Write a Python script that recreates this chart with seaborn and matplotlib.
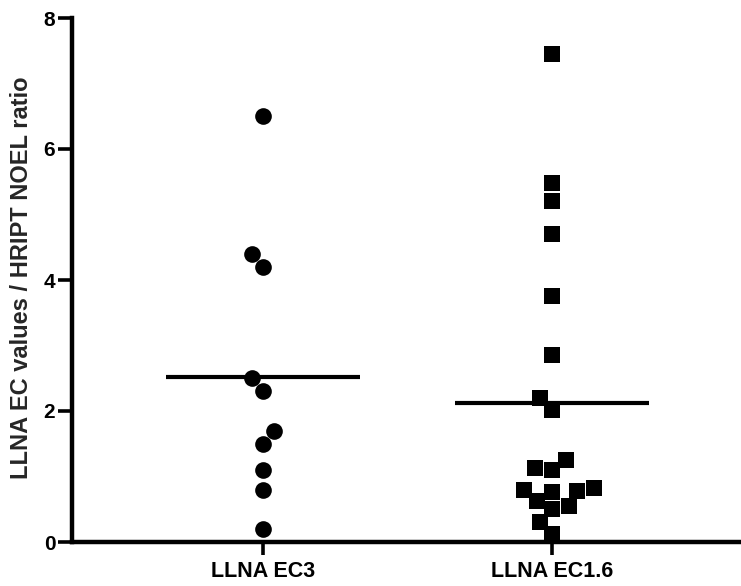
import numpy as np
import pandas as pd
import matplotlib
matplotlib.use("Agg")
import matplotlib.pyplot as plt
import seaborn as sns

# ---- data ----
categories = ["LLNA EC3", "LLNA EC1.6"]
ec3_values = [6.5, 4.4, 4.2, 2.5, 2.3, 1.7, 1.5, 1.1, 0.8, 0.2]
ec16_values = [7.45, 5.48, 5.2, 4.7, 3.76, 2.85, 2.2, 2.02, 1.25, 1.13, 1.1,
               0.82, 0.8, 0.78, 0.77, 0.63, 0.55, 0.5, 0.3, 0.12]
y_ticks = [0, 2, 4, 6, 8]
y_label = "LLNA EC values / HRIPT NOEL ratio"

df = pd.DataFrame({
    "group": [categories[0]] * len(ec3_values) + [categories[1]] * len(ec16_values),
    "value": ec3_values + ec16_values,
})

sns.set_style("ticks")
plt.rcParams["font.family"] = ["Liberation Sans", "DejaVu Sans"]
plt.rcParams["font.weight"] = "bold"

fig = plt.figure(figsize=(7.41, 5.86), dpi=100)
ax = fig.add_axes([72 / 741, 44 / 586, (740 - 72) / 741, (542 - 18) / 586])

markers = ["o", "s"]
for cat, mk in zip(categories, markers):
    sub = df[df["group"] == cat]
    sns.swarmplot(data=sub, x="group", y="value", order=categories, ax=ax,
                  color="black", marker=mk, size=12, linewidth=0, clip_on=False)

# mean lines
for i, cat in enumerate(categories):
    m = df.loc[df["group"] == cat, "value"].mean()
    ax.hlines(m, i - 0.335, i + 0.335, color="black", linewidth=3.0, zorder=3)

ax.set_xlim(-0.661, 1.65)
ax.set_ylim(0, 8)
ax.set_yticks(y_ticks)
ax.set_yticklabels([str(t) for t in y_ticks])
ax.set_xlabel("")
ax.set_ylabel(y_label, fontsize=17, fontweight="bold")
ax.yaxis.label.set_va("center")
ax.yaxis.set_label_coords((22 - 72) / 668, 0.505)

sns.despine(ax=ax)
for sp in ["left", "bottom"]:
    ax.spines[sp].set_linewidth(3.2)
    ax.spines[sp].set_color("black")
ax.tick_params(axis="y", length=10, width=2.6, pad=2, labelsize=15, colors="black")
ax.tick_params(axis="x", length=9, width=2.6, pad=5, labelsize=15.5, colors="black")
for lab in ax.get_xticklabels() + ax.get_yticklabels():
    lab.set_fontweight("bold")

fig.savefig("out.png", dpi=100)
